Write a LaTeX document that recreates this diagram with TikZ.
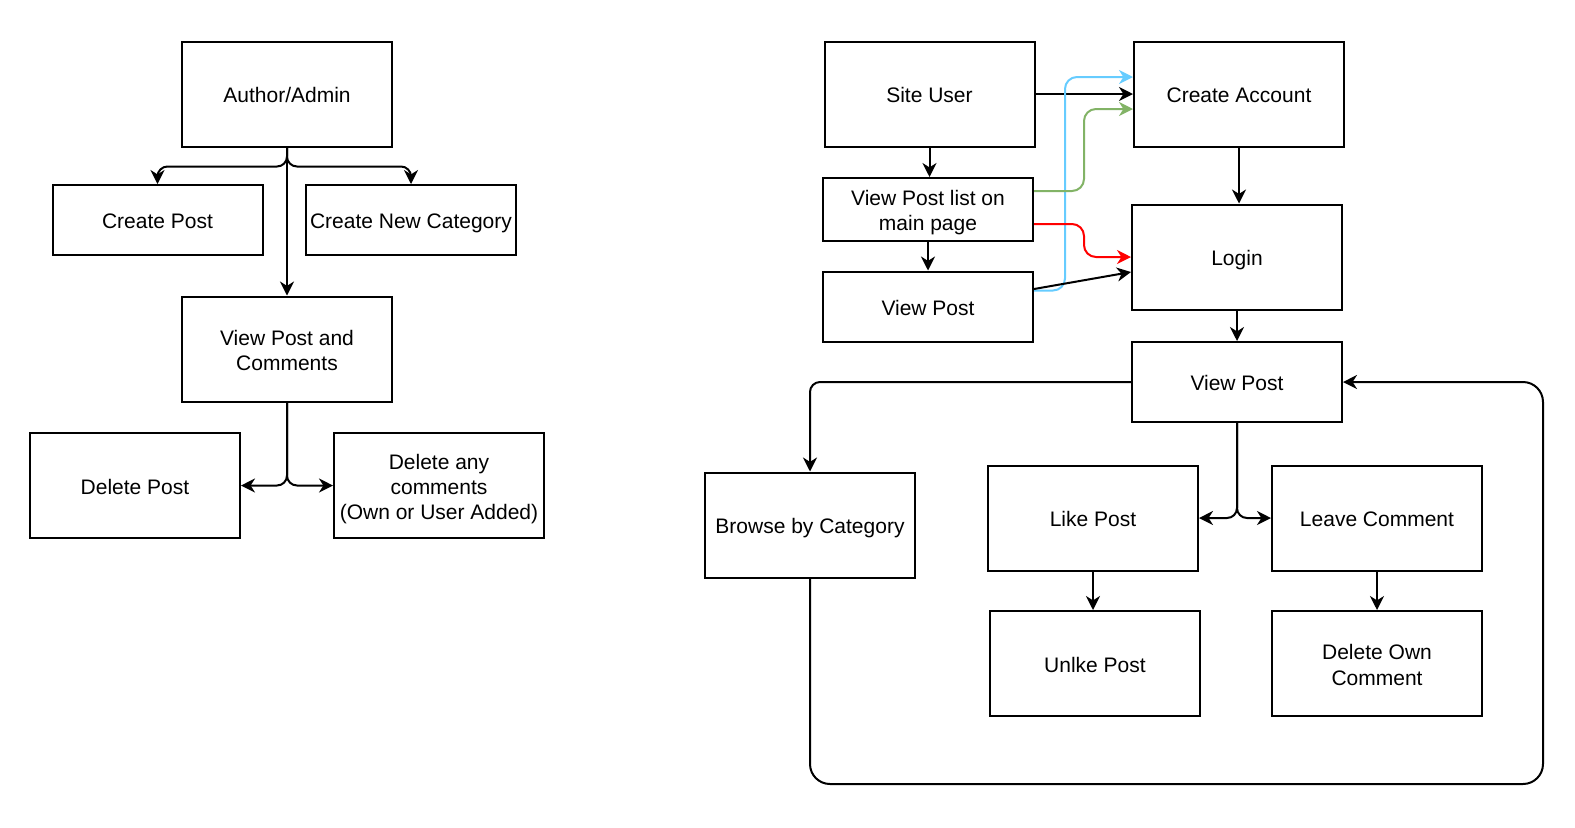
\documentclass[tikz,border=0pt]{standalone}
\usepackage{fontspec}
\setmainfont{Liberation Sans}
\usetikzlibrary{arrows.meta}
\newcommand\lnst{\rule[-2.05pt]{0pt}{12.6pt}}
\newcommand\mlst{\rule{0pt}{11pt}}
\begin{document}
\begin{tikzpicture}[x=0.5pt,y=-0.5pt,
  box/.style={draw, line width=1pt, minimum width=105pt, minimum height=52.5pt, inner sep=0pt, align=center, font=\fontsize{10.5}{12.6}\selectfont, execute at begin node=\lnst, execute at end node=\lnst},
  flat/.style={box, minimum height=35pt},
  mid/.style={box, minimum height=31.5pt},
  vp/.style={box, minimum height=40pt},
  arr/.style={line width=1pt, -{Stealth[length=7pt,width=7pt,inset=2.2pt]}, rounded corners=5pt},
  colarr/.style={arr, rounded corners=6pt}
]
\useasboundingbox (0,0) rectangle (1575,827);
% left diagram
\node[box] (author) at (287,94) {Author/Admin};
\node[flat] (cpost) at (157.5,220) {Create Post};
\node[flat] (ccat) at (411,220) {Create New Category};
\node[box] (vpc) at (287,349) {\mlst View Post and\\Comments};
\node[box] (dpost) at (135,485.5) {Delete Post};
\node[box] (dany) at (439,485.5) {\mlst Delete any\\comments\\(Own or User Added)};
\draw[arr] (author.south) -- ++(0,19) -| (cpost.north);
\draw[arr] (author.south) -- ++(0,19) -| (ccat.north);
\draw[arr] (author.south) -- (vpc.north);
\draw[arr] (vpc.south) |- (dpost.east);
\draw[arr] (vpc.south) |- (dany.west);
% right diagram
\node[box] (site) at (929.5,94) {Site User};
\node[box] (cacc) at (1239,94) {Create Account};
\node[mid] (vlist) at (928,209.5) {\mlst View Post list on\\main page};
\node[flat] (vps) at (928,306.5) {View Post};
\node[box] (login) at (1237,257) {Login};
\node[vp] (vpm) at (1237,382) {View Post};
\node[box] (browse) at (810,525) {Browse by Category};
\node[box] (like) at (1093,518) {Like Post};
\node[box] (leave) at (1377,518) {Leave Comment};
\node[box] (unlike) at (1095,663.5) {Unlke Post};
\node[box] (delown) at (1377,663.5) {\mlst Delete Own\\Comment};
\coordinate (loopbl) at (810,784);
\coordinate (loopbr) at (1543,784);
\coordinate (looptr) at (1543,382);
\draw[arr] (site.east) -- (cacc.west);
\draw[arr] (site.south) -- (site.south |- vlist.north);
\draw[arr] (vlist.south) -- (vps.north);
\draw[arr] (cacc.south) -- (cacc.south |- login.north);
\draw[arr] (login.south) -- (vpm.north);
\draw[arr] (vpm.south) |- (like.east);
\draw[arr] (vpm.south) |- (leave.west);
\draw[arr] (like.south) -- (like.south |- unlike.north);
\draw[arr] (leave.south) -- (delown.north);
\draw[arr] (vpm.west) -| (browse.north);
\draw[arr, rounded corners=10pt] (browse.south) -- (loopbl) -- (loopbr) -- (looptr) -- (vpm.east);
\draw[colarr, color={rgb,255:red,102;green,204;blue,255}] ([yshift=8pt]vps.east) -- ++(31,0) |- ([yshift=8.5pt]cacc.west);
\draw[colarr, color={rgb,255:red,130;green,179;blue,102}] ([yshift=9.25pt]vlist.east) -- ++(50,0) |- ([yshift=-7.5pt]cacc.west);
\draw[colarr, color={rgb,255:red,255;green,0;blue,0}] ([yshift=-7.25pt]vlist.east) -- ++(50,0) |- (login.west);
\draw[arr] ([yshift=8.75pt]vps.east) -- ([yshift=-7.5pt]login.west);
\end{tikzpicture}
\end{document}
